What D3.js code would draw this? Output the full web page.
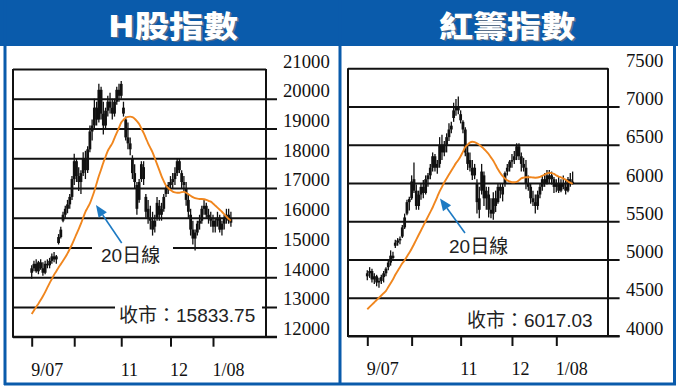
<!DOCTYPE html>
<html>
<head>
<meta charset="utf-8">
<script src="https://cdn.jsdelivr.net/npm/d3@7"></script>
<style>
  html, body { margin: 0; padding: 0; background: #fff; }
  svg { display: block; }
</style>
</head>
<body>
<svg id="chart" width="678" height="389"></svg>
<script>
// x axis: trading day index, ticks at month starts
const xTickIdx = [0, 19, 40, 62, 81];
const xTickLabels = ["9/07", "", "11", "12", "1/08"];

// H股指數 (HSCEI) daily candles
const hYTicks = [12000, 13000, 14000, 15000, 16000, 17000, 18000, 19000, 20000, 21000];
const hOpen = [14150,14300,14450,14200,14500,14300,14150,14450,14400,14550,14700,14600,15150,15350,15900,16100,16300,16450,16700,17300,
  17900,17400,17200,17500,18000,17600,18300,18900,19100,19700,19300,20300,19500,19100,19600,19900,19700,19500,19900,20300,
  20100,19700,19300,18700,18500,18000,17500,17100,16600,17300,17700,16700,16300,16000,15900,15700,16000,16400,16100,16300,
  16800,17000,17100,17200,17300,17500,17900,17500,17200,17000,16600,16100,15600,15300,15500,15800,15900,16300,16400,16100,
  16000,15900,15700,15900,16000,15600,15800,16000,16100,15950];
const hHigh = [14400,14550,14600,14550,14600,14500,14550,14600,14650,14800,14850,14750,15450,15700,16200,16400,16600,16800,17400,18150,
  18000,17700,17600,18200,18250,18400,19100,19300,20000,19900,20500,20400,19900,19700,20100,20200,20000,20000,20400,20500,
  20600,19900,19400,19200,18700,18100,17800,17200,17300,17900,17900,16800,16600,16400,16200,16100,16700,16600,16500,16800,
  17100,17200,17400,17500,17700,18000,18000,17600,17400,17200,16800,16300,15900,15600,15900,16100,16400,16600,16500,16300,
  16200,16100,16000,16200,16100,15900,16100,16300,16300,16200];
const hLow = [13950,14200,14150,14100,14250,14050,14100,14300,14300,14450,14500,14450,15100,15300,15850,16000,16150,16300,16600,17100,
  17200,16900,16800,17400,17300,17500,18200,18600,19000,19100,19200,19300,18800,19000,19400,19500,19300,19400,19800,19900,
  20000,19400,18600,18300,18100,17300,17000,16100,16500,17200,17100,16000,15800,15600,15400,15500,15900,15900,15900,16200,
  16700,16800,16900,17000,17100,17400,17500,17000,16900,16400,16000,15400,15100,14900,15400,15600,15800,16100,16000,15800,
  15700,15500,15500,15700,15500,15400,15600,15800,15800,15700];
const hClose = [14300,14450,14200,14500,14300,14150,14450,14400,14550,14700,14600,14700,15350,15600,16100,16300,16450,16700,17300,17900,
  17400,17200,17500,18000,17600,18300,18900,19100,19700,19300,20300,19500,19100,19600,19900,19700,19500,19900,20300,20100,
  20500,19500,18700,18500,18300,17500,17200,16300,17200,17800,17300,16200,16000,15900,15600,15900,16500,16100,16300,16700,
  17000,17100,17200,17300,17500,17900,17600,17200,17100,16600,16200,15600,15300,15500,15800,15900,16300,16400,16100,16000,
  15900,15700,15900,16000,15600,15800,16000,16100,15900,15834];
const hMA20 = [12760,12880,13000,13110,13230,13360,13500,13650,13800,13940,14080,14200,14330,14440,14550,14670,14800,14950,15100,15270,
  15450,15620,15800,16000,16200,16340,16480,16680,16900,17150,17400,17620,17850,18050,18250,18380,18500,18680,18850,19030,
  19200,19290,19360,19390,19400,19380,19330,19250,19150,19000,18850,18680,18500,18350,18200,18000,17800,17600,17400,17230,
  17080,17000,16930,16880,16850,16840,16840,16860,16870,16840,16790,16740,16690,16660,16640,16630,16630,16620,16600,16570,
  16540,16480,16410,16340,16270,16200,16120,16040,15960,15900];

// 紅籌指數 (HSCCI) daily candles
const rYTicks = [4000, 4500, 5000, 5500, 6000, 6500, 7000, 7500];
const rOpen = [4780,4820,4850,4740,4780,4700,4720,4770,4820,4900,4960,5050,5180,5220,5250,5300,5420,5600,5750,5800,
  6050,5900,5700,5850,5950,5870,6050,6100,6200,6350,6200,6250,6500,6400,6500,6600,6700,6850,6950,7000,
  6900,6800,6700,6400,6300,6200,6100,6000,5800,5900,6100,5800,5850,5650,5600,5800,5750,5950,5850,6000,
  6150,6200,6280,6300,6350,6480,6350,6250,6200,6000,5950,5800,5750,5700,5850,5950,6050,6000,6100,6050,
  6050,5950,6000,5900,6000,5950,5900,6050,6000];
const rHigh = [4860,4900,4880,4820,4800,4760,4800,4850,4900,5000,5120,5100,5260,5280,5300,5450,5600,5780,5820,6100,
  6270,5980,5900,6000,6040,6100,6130,6250,6400,6380,6300,6600,6630,6550,6650,6780,6800,7050,7100,7130,
  6950,6820,6730,6500,6400,6300,6250,6050,5950,6250,6150,5950,5950,5800,5880,5900,6000,6000,6000,6150,
  6250,6300,6380,6420,6520,6520,6400,6330,6300,6100,6000,5900,5850,5900,6000,6100,6130,6170,6170,6150,
  6080,6050,6080,6050,6100,6050,6080,6130,6150];
const rLow = [4730,4760,4700,4680,4650,4630,4680,4700,4780,4860,4920,4980,5150,5180,5200,5280,5400,5580,5640,5780,
  5870,5650,5650,5780,5800,5850,5950,6050,6150,6150,6120,6200,6300,6350,6400,6550,6650,6800,6880,6900,
  6780,6650,6350,6170,6150,6040,6050,5600,5540,5850,5700,5650,5550,5540,5520,5620,5730,5800,5760,5950,
  6100,6150,6200,6250,6300,6300,6150,6150,5920,5900,5730,5700,5600,5650,5800,5900,5950,5980,6000,5980,
  5870,5880,5870,5880,5920,5850,5880,5950,5980];
const rClose = [4820,4850,4740,4780,4700,4720,4770,4820,4880,4960,5050,5020,5220,5250,5270,5420,5550,5750,5790,6020,
  5900,5700,5850,5950,5870,6050,6100,6200,6350,6200,6250,6500,6400,6500,6600,6700,6750,6950,7000,6950,
  6820,6700,6400,6250,6200,6100,6200,5750,5650,6150,5800,5900,5650,5600,5800,5700,5950,5900,5950,6130,
  6200,6280,6300,6350,6480,6350,6250,6200,6000,5950,5800,5750,5700,5850,5950,6050,6000,6100,6050,6100,
  5950,6000,5900,6000,5950,5900,6050,6000,6017];
const rMA20 = [4350,4380,4410,4440,4470,4500,4530,4560,4590,4640,4690,4740,4800,4850,4900,4950,4990,5040,5090,5140,
  5200,5260,5320,5380,5440,5500,5560,5620,5680,5750,5820,5890,5950,6010,6060,6110,6160,6210,6260,6300,
  6350,6410,6470,6500,6530,6540,6535,6520,6500,6475,6445,6415,6380,6335,6290,6235,6180,6130,6090,6060,
  6035,6020,6010,6010,6015,6035,6060,6070,6075,6075,6075,6072,6070,6072,6080,6095,6110,6125,6135,6130,
  6120,6100,6085,6075,6060,6045,6020,6005,5990];

const blue = "#0a5bab";
const arrowBlue = "#1d7ac3";
const orange = "#f0861e";
const ink = "#111";
const noteFont = "'Liberation Sans', 'Noto Sans CJK TC', sans-serif";

const svg = d3.select("#chart");

// outer blue frame and header band
svg.append("rect").attr("x", 0).attr("y", 0).attr("width", 678).attr("height", 46).attr("fill", blue);
[[5, 0, 5, 385], [340, 0, 340, 385], [674.5, 0, 674.5, 385], [4, 384, 676, 384]].forEach(function(l) {
  svg.append("line")
    .attr("x1", l[0]).attr("y1", l[1]).attr("x2", l[2]).attr("y2", l[3])
    .attr("stroke", blue).attr("stroke-width", 3);
});

function drawPanel(o) {
  const g = svg.append("g");

  // title with a soft shadow
  [[1.5, 1.5, "#5a6f8a"], [0, 0, "#fff"]].forEach(function(t) {
    g.append("text")
      .attr("x", o.titleX + t[0]).attr("y", 36.5 + t[1])
      .attr("text-anchor", "middle")
      .attr("textLength", o.titleW)
      .attr("lengthAdjust", "spacingAndGlyphs")
      .style("font-family", "'Noto Sans CJK TC', sans-serif")
      .style("font-weight", 900).style("font-size", "30px")
      .attr("fill", t[2])
      .text(o.title);
  });

  let x = d3.scaleLinear().domain([0, 81]).range(o.xRange);
  let y = d3.scaleLinear().domain(o.yDomain).range([o.bottom, o.top]);

  // grid lines with tick stubs past the right frame
  let grid = d3.axisRight(y)
    .tickValues(o.yTicks)
    .tickSize(o.right + o.tickOut - o.left)
    .tickFormat("");
  g.append("g")
    .attr("class", "grid")
    .attr("transform", "translate(" + o.left + ",0)")
    .call(grid)
    .call(function(s) { s.select(".domain").remove(); })
    .selectAll("line")
    .attr("stroke", ink).attr("stroke-width", 1.9)
    .attr("x2", function(d) { return d == o.yDomain[1] ? o.right - o.left : o.right + o.tickOut - o.left; });

  // y labels
  g.selectAll(".ylab")
    .data(o.yTicks)
    .enter().append("text")
    .attr("class", "ylab")
    .attr("x", o.labelX)
    .attr("y", function(d) { return y(d) - 1.5; })
    .attr("textLength", function(d) { return String(d).length * 9.35; })
    .attr("lengthAdjust", "spacingAndGlyphs")
    .style("font-family", "'Liberation Serif', serif")
    .style("font-size", "18px")
    .attr("fill", ink)
    .text(function(d) { return d; });

  // frame: left, right, bottom
  g.append("path")
    .attr("d", "M" + o.left + "," + o.top + "V" + o.bottom + "H" + (o.right + o.tickOut) +
      "M" + o.right + "," + o.top + "V" + o.bottom)
    .attr("fill", "none").attr("stroke", ink).attr("stroke-width", 2);

  // x ticks and labels
  let xAxis = d3.axisBottom(x)
    .tickValues(xTickIdx)
    .tickSize(10)
    .tickPadding(17)
    .tickFormat(function(d, i) { return xTickLabels[i]; });
  let xa = g.append("g")
    .attr("class", "x-axis")
    .attr("transform", "translate(0," + o.bottom + ")")
    .call(xAxis);
  xa.select(".domain").remove();
  xa.selectAll(".tick line").attr("stroke", ink).attr("stroke-width", 2);
  xa.selectAll(".tick text")
    .attr("text-anchor", "start")
    .attr("x", -1)
    .attr("y", 39).attr("dy", null)
    .style("font-family", "'Liberation Serif', serif")
    .style("font-size", "18px")
    .attr("fill", ink);

  // white knock-out boxes behind annotations that sit on a grid line
  o.boxes.forEach(function(b) {
    g.append("rect").attr("x", b[0]).attr("y", b[1]).attr("width", b[2]).attr("height", b[3]).attr("fill", "#fff");
  });

  // candles
  let rows = d3.zip(o.open, o.high, o.low, o.close);
  let candles = g.append("g").attr("class", "candles");
  candles.selectAll("line")
    .data(rows)
    .enter().append("line")
    .attr("x1", function(d, i) { return x(i); })
    .attr("x2", function(d, i) { return x(i); })
    .attr("y1", function(d) { return y(d[1]); })
    .attr("y2", function(d) { return y(d[2]); })
    .attr("stroke", ink).attr("stroke-width", 1.3);
  candles.selectAll("rect")
    .data(rows)
    .enter().append("rect")
    .attr("x", function(d, i) { return x(i) - 1.4; })
    .attr("width", 2.8)
    .attr("y", function(d) { return y(Math.max(d[0], d[3])); })
    .attr("height", function(d) { return Math.max(1.2, Math.abs(y(d[0]) - y(d[3]))); })
    .attr("fill", ink);

  // 20 day moving average
  let maLine = d3.line()
    .x(function(d, i) { return x(i); })
    .y(function(d) { return y(d); })
    .curve(d3.curveMonotoneX);
  g.append("path")
    .datum(o.ma)
    .attr("fill", "none")
    .attr("stroke", orange)
    .attr("stroke-width", 1.9)
    .attr("d", maLine);

  // arrow to the average line
  let a = o.arrow;
  let ang = Math.atan2(a[3] - a[1], a[2] - a[0]);
  let hl = 12, hw = 5;
  let bx = a[2] - hl * Math.cos(ang), by = a[3] - hl * Math.sin(ang);
  g.append("line")
    .attr("x1", a[0]).attr("y1", a[1]).attr("x2", bx).attr("y2", by)
    .attr("stroke", arrowBlue).attr("stroke-width", 1.6);
  g.append("path")
    .attr("d", "M" + a[2] + "," + a[3] +
      "L" + (bx + hw * Math.sin(ang)) + "," + (by - hw * Math.cos(ang)) +
      "L" + (bx - hw * Math.sin(ang)) + "," + (by + hw * Math.cos(ang)) + "Z")
    .attr("fill", arrowBlue);

  g.append("text")
    .attr("x", o.maLabel[0]).attr("y", o.maLabel[1])
    .style("font-family", noteFont)
    .style("font-size", "19px")
    .attr("fill", "#222")
    .text("20日線");

  g.append("text")
    .attr("x", o.closeLabel[0]).attr("y", o.closeLabel[1])
    .style("font-family", noteFont)
    .style("font-size", "19px")
    .attr("fill", "#222")
    .text(o.closeText);
}

drawPanel({
  title: "H股指數", titleX: 173, titleW: 130,
  left: 13, right: 266, top: 69, bottom: 336.7, tickOut: 11,
  xRange: [31.7, 213], yDomain: [12000, 21000], yTicks: hYTicks,
  labelX: 283,
  open: hOpen, high: hHigh, low: hLow, close: hClose, ma: hMA20,
  boxes: [[92, 240, 81, 20], [115, 300, 147, 16]],
  arrow: [121.7, 243, 96, 205],
  maLabel: [101, 262], closeLabel: [119, 322], closeText: "收市：15833.75"
});

drawPanel({
  title: "紅籌指數", titleX: 507, titleW: 136,
  left: 348, right: 608, top: 68.3, bottom: 336, tickOut: 11.6,
  xRange: [367.3, 556.3], yDomain: [4000, 7500], yTicks: rYTicks,
  labelX: 626,
  open: rOpen, high: rHigh, low: rLow, close: rClose, ma: rMA20,
  boxes: [],
  arrow: [465, 233, 440, 198.5],
  maLabel: [449, 253], closeLabel: [467, 327], closeText: "收市：6017.03"
});
</script>
</body>
</html>
